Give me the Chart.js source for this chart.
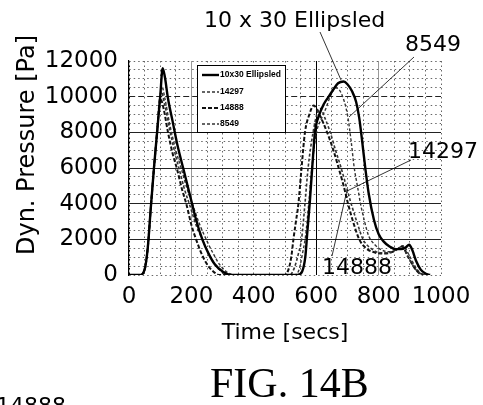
<!DOCTYPE html>
<html>
<head>
<meta charset="utf-8">
<script src="https://cdn.jsdelivr.net/npm/chart.js@4.4.1/dist/chart.umd.min.js"></script>
<style>
  html, body { margin: 0; padding: 0; background: #fff; }
  #wrap { width: 483px; height: 405px; }
</style>
</head>
<body>
<div id="wrap"><canvas id="pressureChart" width="483" height="405"></canvas></div>
<script>
// Dynamic pressure vs time
const ellipsledTime = [0, 35, 50, 60, 70, 80, 90, 100, 108, 115, 125, 140, 155, 175, 195, 215, 235, 255, 275, 300, 330, 480, 540, 555, 565, 572, 580, 588, 596, 610, 625, 640, 655, 670, 688, 700, 715, 728, 738, 748, 758, 768, 785, 800, 815, 835, 855, 872, 887, 898, 908, 920, 935, 950, 965];
const ellipsledPressure = [0, 0, 300, 1500, 3800, 6000, 8000, 10000, 11600, 11100, 9900, 8600, 7300, 5900, 4500, 3100, 2000, 1200, 600, 200, 0, 0, 0, 200, 1000, 2500, 4200, 6200, 8000, 9000, 9600, 10000, 10400, 10750, 10850, 10700, 10300, 9700, 8800, 7400, 5900, 4600, 3100, 2300, 1900, 1600, 1450, 1450, 1550, 1700, 1400, 800, 300, 80, 0];

const t8549 = [0, 35, 50, 60, 70, 80, 90, 98, 105, 115, 130, 150, 167, 185, 205, 225, 250, 270, 290, 315, 340, 480, 530, 545, 556, 566, 576, 586, 601, 615, 630, 645, 662, 680, 700, 712, 722, 732, 742, 755, 768, 788, 810, 835, 860, 878, 898, 920, 935, 950];
const p8549 = [0, 0, 300, 1500, 3800, 6000, 8000, 9600, 10600, 9900, 8500, 7000, 6000, 4900, 3900, 2900, 1900, 1200, 600, 150, 0, 0, 0, 300, 1200, 2200, 4000, 6000, 8000, 8700, 9300, 10000, 10500, 10200, 9000, 7500, 6000, 5000, 4000, 3000, 2200, 1700, 1400, 1300, 1450, 1650, 1100, 400, 100, 0];

const t14297 = [0, 35, 50, 60, 70, 80, 90, 97, 103, 115, 130, 145, 160, 178, 195, 215, 235, 255, 275, 300, 320, 480, 515, 530, 543, 553, 564, 574, 590, 602, 612, 628, 645, 662, 680, 696, 712, 730, 750, 775, 805, 830, 855, 875, 895, 915, 932, 948];
const p14297 = [0, 0, 300, 1500, 3800, 6000, 8000, 9500, 10300, 9500, 8200, 7000, 6000, 4800, 3900, 2800, 2000, 1200, 600, 150, 0, 0, 0, 400, 1200, 2000, 4000, 6000, 8000, 9000, 9350, 8800, 8000, 7000, 6000, 5000, 4000, 3000, 2000, 1500, 1250, 1250, 1400, 1600, 1000, 400, 100, 0];

const t14888 = [0, 35, 50, 60, 70, 80, 90, 100, 110, 125, 140, 153, 170, 185, 200, 215, 230, 250, 270, 290, 480, 500, 511, 520, 527, 535, 543, 553, 564, 578, 592, 610, 635, 655, 672, 688, 702, 718, 738, 760, 790, 820, 845, 865, 875, 895, 915, 930, 945];
const p14888 = [0, 0, 300, 1500, 3800, 6000, 8000, 9900, 9400, 8000, 6800, 6000, 4800, 3900, 2800, 2000, 1300, 600, 200, 0, 0, 0, 300, 1000, 2000, 3000, 4000, 6000, 8000, 9000, 9500, 9000, 8000, 7000, 6000, 5000, 4000, 3000, 2000, 1500, 1250, 1200, 1300, 1500, 1600, 1000, 400, 100, 0];

const seriesLabels = ["10x30 Ellipsled", "14297", "14888", "8549"];
const xTickLabels = [0, 200, 400, 600, 800, 1000];
const yTickLabels = [0, 2000, 4000, 6000, 8000, 10000, 12000];

function pts(t, p) { return t.map((x, i) => ({ x: x, y: p[i] })); }

const mainFont = "'DejaVu Sans', sans-serif";

// annotations, legend box, y title and figure caption
const paperPlugin = {
  id: "paper",
  afterDraw(chart) {
    const ctx = chart.ctx;
    ctx.save();
    ctx.fillStyle = "#000";
    ctx.strokeStyle = "#000";

    // legend inside the plot
    ctx.fillStyle = "#fff";
    ctx.fillRect(197, 65, 88, 67);
    ctx.lineWidth = 1;
    ctx.strokeRect(197.5, 65.5, 88, 67);
    ctx.font = "bold 8.5px 'Liberation Sans', sans-serif";
    ctx.textBaseline = "middle";
    ctx.textAlign = "left";
    const rowsY = [75, 92, 108, 124];
    chart.data.datasets.forEach((ds, i) => {
      ctx.save();
      ctx.strokeStyle = ds.borderColor;
      ctx.lineWidth = ds.borderWidth;
      ctx.setLineDash(ds.borderDash || []);
      ctx.beginPath();
      ctx.moveTo(202, rowsY[i]);
      ctx.lineTo(219, rowsY[i]);
      ctx.stroke();
      ctx.restore();
      ctx.fillStyle = "#000";
      ctx.fillText(ds.label, 220, rowsY[i]);
    });

    // y axis title
    ctx.save();
    ctx.translate(28, 145);
    ctx.rotate(-Math.PI / 2);
    ctx.font = "24px " + mainFont;
    ctx.textAlign = "center";
    ctx.textBaseline = "middle";
    ctx.fillText("Dyn. Pressure [Pa]", 0, 0);
    ctx.restore();

    // callouts
    ctx.font = "22px " + mainFont;
    ctx.textBaseline = "alphabetic";
    ctx.textAlign = "left";
    ctx.fillText("10 x 30 Ellipsled", 204, 27);
    ctx.fillText("8549", 405, 51);
    ctx.fillText("14297", 408, 158);
    ctx.fillText("14888", 322, 274);
    ctx.fillText("14888", -4, 413);

    ctx.lineWidth = 0.8;
    ctx.beginPath();
    ctx.moveTo(320, 32); ctx.lineTo(341, 80);
    ctx.moveTo(414, 57); ctx.lineTo(349, 117);
    ctx.moveTo(411, 160); ctx.lineTo(347, 191);
    ctx.moveTo(332, 256); ctx.lineTo(347, 190);
    ctx.stroke();

    // caption
    ctx.font = "42px 'Liberation Serif', serif";
    ctx.fillText("FIG. 14B", 210, 397);
    ctx.restore();
  }
};

function xDash(ctx) {
  const v = ctx.tick ? ctx.tick.value : null;
  if (v === 200 || v === 600 || v === 800) return [];
  return [1.5, 3];
}
function xGridColor(ctx) {
  const v = ctx.tick ? ctx.tick.value : null;
  if (v === 600 || v === 0) return "#000";
  if (v === 200 || v === 800) return "#999";
  return "#666";
}
function yDash(ctx) {
  const v = ctx.tick ? ctx.tick.value : null;
  if (v === 2000 || v === 4000 || v === 6000 || v === 8000) return [];
  if (v === 10000) return [6, 3];
  return [1.5, 3];
}
function yGridColor(ctx) {
  const v = ctx.tick ? ctx.tick.value : null;
  if (v === 2000 || v === 4000 || v === 6000 || v === 8000 || v === 10000) return "#222";
  return "#666";
}

new Chart(document.getElementById("pressureChart"), {
  type: "line",
  data: {
    datasets: [
      { label: seriesLabels[0], data: pts(ellipsledTime, ellipsledPressure), borderColor: "#000", borderWidth: 2.4, borderDash: [] },
      { label: seriesLabels[1], data: pts(t14297, p14297), borderColor: "#333", borderWidth: 1.6, borderDash: [3, 2] },
      { label: seriesLabels[2], data: pts(t14888, p14888), borderColor: "#111", borderWidth: 2, borderDash: [4, 2] },
      { label: seriesLabels[3], data: pts(t8549, p8549), borderColor: "#333", borderWidth: 1.4, borderDash: [3, 2] }
    ]
  },
  options: {
    responsive: false,
    animation: false,
    events: [],
    layout: { padding: { left: 0, right: 42, top: 61, bottom: 59 } },
    elements: {
      point: { radius: 0 },
      line: { tension: 0.4, cubicInterpolationMode: "monotone", fill: false }
    },
    plugins: {
      legend: { display: false },
      tooltip: { enabled: false }
    },
    scales: {
      x: {
        type: "linear",
        min: 0,
        max: 1000,
        afterFit(scale) { scale.height = 71; },
        ticks: {
          stepSize: 50,
          autoSkip: false,
          maxRotation: 0,
          padding: 8,
          color: "#000",
          font: { family: mainFont, size: 23 },
          callback: v => xTickLabels.includes(v) ? String(v) : ""
        },
        grid: { color: xGridColor, lineWidth: 1, drawTicks: false },
        border: { display: false, dash: xDash },
        title: {
          display: true,
          text: "Time [secs]",
          color: "#000",
          padding: 0,
          font: { family: mainFont, size: 22, lineHeight: 1.2 }
        }
      },
      y: {
        min: 0,
        max: 12000,
        afterFit(scale) { scale.width = 129; },
        ticks: {
          stepSize: 500,
          autoSkip: false,
          padding: 11,
          color: "#000",
          font: { family: mainFont, size: 23 },
          callback: v => yTickLabels.includes(v) ? String(v) : ""
        },
        grid: { color: yGridColor, lineWidth: 1, drawTicks: false },
        border: { display: true, color: "#000", width: 1.2, dash: yDash }
      }
    }
  },
  plugins: [paperPlugin]
});
</script>
</body>
</html>
